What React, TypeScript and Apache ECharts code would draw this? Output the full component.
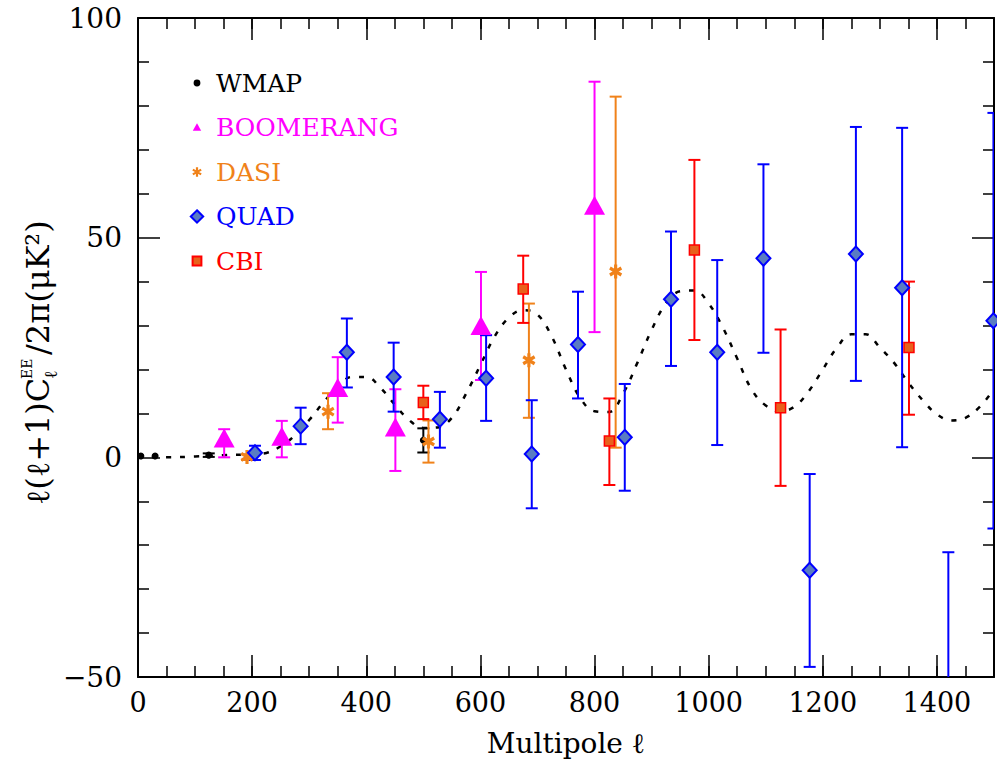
import React, { useEffect, useRef } from "react";
import * as echarts from "echarts";

const FONT = "DejaVu Serif";

// Theory EE curve (multipole, value)
const curveL = [0, 50, 100, 150, 200, 225, 250, 275, 300, 325, 350, 375, 400, 425, 450, 475, 500, 525, 550, 575, 600, 625, 650, 675, 700, 725, 750, 775, 800, 825, 850, 875, 900, 925, 950, 975, 1000, 1025, 1050, 1075, 1100, 1125, 1150, 1175, 1200, 1225, 1250, 1275, 1300, 1325, 1350, 1375, 1400, 1425, 1450, 1475, 1500];
const curveV = [0, 0, 0.2, 0.5, 0.7, 1.0, 2.5, 5.0, 8.5, 12.5, 16.0, 18.3, 18.3, 15.8, 12.0, 8.5, 6.7, 6.8, 9.0, 14.5, 21.0, 27.5, 31.8, 33.5, 32.5, 27.5, 20.0, 13.5, 10.5, 10.3, 14.5, 21.5, 29.0, 35.0, 37.8, 38.0, 35.0, 29.5, 22.5, 15.5, 11.8, 10.5, 11.5, 15.0, 20.0, 25.0, 28.0, 28.0, 25.0, 21.5, 17.0, 13.0, 9.8, 8.4, 9.0, 11.5, 15.5];

// WMAP
const wmapL = [5, 30, 124, 500];
const wmapV = [0.3, 0.3, 0.5, 3.9];
const wmapLo = [0.3, 0.3, 0.1, 1.1];
const wmapHi = [0.3, 0.3, 0.9, 6.6];

// BOOMERANG
const boomL = [151, 252, 350, 451, 601, 800];
const boomV = [4.4, 4.8, 15.9, 6.9, 30.0, 57.4];
const boomLo = [0.0, 0.0, 7.9, -3.1, 17.6, 28.5];
const boomHi = [6.4, 8.3, 22.8, 15.5, 42.2, 85.5];

// DASI
const dasiL = [191, 333, 509, 685, 837];
const dasiV = [0.1, 10.4, 3.6, 22.1, 42.3];
const dasiLo = [-0.6, 6.4, -1.2, 9.0, 2.2];
const dasiHi = [0.7, 14.6, 8.4, 35.0, 82.1];

// QUAD
const quadL = [205, 285, 366, 448, 529, 610, 690, 771, 853, 934, 1015, 1096, 1177, 1258, 1339, 1420, 1499];
const quadV = [1.05, 7.1, 23.9, 18.3, 8.65, 18.0, 0.75, 25.7, 4.55, 36.0, 23.9, 45.3, -25.7, 46.3, 38.6, -60.0, 31.1];
const quadLo = [-0.6, 3.0, 15.9, 10.4, 2.2, 8.3, -11.6, 13.4, -7.6, 20.8, 2.8, 23.8, -47.7, 17.4, 2.3, -98.0, -16.2];
const quadHi = [2.64, 11.3, 31.6, 26.1, 14.9, 27.8, 13.0, 37.7, 16.7, 51.4, 44.9, 66.7, -3.8, 75.2, 75.0, -21.6, 78.4];

// CBI
const cbiL = [500, 675, 826, 975, 1126, 1351];
const cbiV = [12.5, 38.3, 3.7, 47.2, 11.3, 25.0];
const cbiLo = [8.7, 30.6, -6.3, 26.7, -6.5, 9.7];
const cbiHi = [16.3, 45.9, 13.4, 67.7, 29.1, 40.0];

const xTickLabels = ["0", "200", "400", "600", "800", "1000", "1200", "1400"];

const C_WMAP = "#000000";
const C_BOOM = "#ff00ff";
const C_DASI = "#f0821a";
const C_QUAD = "#0000ff";
const C_CBI = "#ff0000";

function asteriskPath(cx: number, cy: number, L: number, w: number, pad?: number) {
  let d = "";
  if (pad) d += `M0,0M${pad},${pad}`;
  [30, 90, 150].forEach((deg) => {
    const t = (deg * Math.PI) / 180;
    const c = Math.cos(t), s = Math.sin(t);
    const pts = [
      [-L * c + w * s, -L * s - w * c],
      [L * c + w * s, L * s - w * c],
      [L * c - w * s, L * s + w * c],
      [-L * c - w * s, -L * s + w * c],
    ];
    d += "M" + pts.map((p) => `${(cx + p[0]).toFixed(2)},${(cy + p[1]).toFixed(2)}`).join("L") + "Z";
  });
  return "path://" + d;
}

function errSeries(name: string, L: number[], lo: number[], hi: number[], color: string) {
  return {
    type: "custom",
    name: name + " err",
    xAxisIndex: 0,
    yAxisIndex: 0,
    clip: true,
    silent: true,
    z: 2,
    data: L.map((x, i) => [x, lo[i], hi[i]]),
    encode: { x: 0, y: [1, 2] },
    renderItem: (params: any, api: any) => {
      const x = api.value(0);
      const a = api.value(1);
      const b = api.value(2);
      if (a === b) return null;
      const p1 = api.coord([x, a]);
      const p2 = api.coord([x, b]);
      const hw = 6;
      const st = { stroke: color, lineWidth: 2 };
      return {
        type: "group",
        children: [
          { type: "line", shape: { x1: p1[0], y1: p1[1], x2: p2[0], y2: p2[1] }, style: st },
          { type: "line", shape: { x1: p1[0] - hw, y1: p1[1], x2: p1[0] + hw, y2: p1[1] }, style: st },
          { type: "line", shape: { x1: p2[0] - hw, y1: p2[1], x2: p2[0] + hw, y2: p2[1] }, style: st },
        ],
      };
    },
  };
}

function pts(L: number[], V: number[]) {
  return L.map((x, i) => [x, V[i]]);
}

export default function App() {
  const ref = useRef<HTMLDivElement>(null);
  useEffect(() => {
    if (!ref.current) return;
    const chart = echarts.init(ref.current, null, { renderer: "svg" });
    const axisLine = { show: true, onZero: false, lineStyle: { color: "#000", width: 2 } };
    const baseX = { type: "value", min: 0, max: 1500, splitLine: { show: false } };
    const option: any = {
      animation: false,
      backgroundColor: "#ffffff",
      grid: { left: 138, right: 1, top: 18, bottom: 90, containLabel: false },
      xAxis: [
        {
          ...baseX,
          position: "bottom",
          interval: 200,
          axisLine,
          axisTick: { show: true, inside: true, length: 22, lineStyle: { color: "#000", width: 1.5 } },
          axisLabel: {
            show: true,
            margin: 12,
            color: "#000",
            fontFamily: FONT,
            fontSize: 27,
            formatter: (v: number) => {
              const i = Math.round(v / 200);
              return v % 200 === 0 && i < xTickLabels.length ? xTickLabels[i] : "";
            },
          },
          name: "Multipole ℓ",
          nameLocation: "middle",
          nameGap: 52,
          nameTextStyle: { color: "#000", fontFamily: FONT, fontSize: 28 },
        },
        {
          ...baseX,
          position: "bottom",
          interval: 50,
          axisLine: { show: false, onZero: false },
          axisTick: { show: true, inside: true, length: 11, lineStyle: { color: "#000", width: 1.5 } },
          axisLabel: { show: false },
        },
        {
          ...baseX,
          position: "top",
          interval: 200,
          axisLine,
          axisTick: { show: true, inside: true, length: 22, lineStyle: { color: "#000", width: 1.5 } },
          axisLabel: { show: false },
        },
        {
          ...baseX,
          position: "top",
          interval: 50,
          axisLine: { show: false, onZero: false },
          axisTick: { show: true, inside: true, length: 11, lineStyle: { color: "#000", width: 1.5 } },
          axisLabel: { show: false },
        },
      ],
      yAxis: [
        {
          type: "value",
          min: -50,
          max: 100,
          interval: 50,
          position: "left",
          splitLine: { show: false },
          axisLine,
          axisTick: { show: true, inside: true, length: 22, lineStyle: { color: "#000", width: 1.5 } },
          minorTick: { show: true, splitNumber: 5, length: 11, lineStyle: { color: "#000", width: 1.5 } },
          axisLabel: {
            show: true,
            margin: 16,
            color: "#000",
            fontFamily: FONT,
            fontSize: 28,
            formatter: (v: number) => (v < 0 ? "−" + Math.abs(v) : String(v)),
          },
        },
        {
          type: "value",
          min: -50,
          max: 100,
          interval: 50,
          position: "right",
          splitLine: { show: false },
          axisLine,
          axisTick: { show: true, inside: true, length: 22, lineStyle: { color: "#000", width: 1.5 } },
          minorTick: { show: true, splitNumber: 5, length: 11, lineStyle: { color: "#000", width: 1.5 } },
          axisLabel: { show: false },
        },
      ],
      legend: {
        left: 189,
        top: 68,
        orient: "vertical",
        padding: 0,
        itemGap: 14.5,
        itemWidth: 14,
        itemHeight: 14,
        selectedMode: false,
        textStyle: { fontFamily: FONT, fontSize: 25, lineHeight: 30, padding: [0, 0, 0, 7] },
        data: [
          { name: "WMAP", icon: "path://M0,0M14,14M7,3.6A3.4,3.4,0,1,1,7,10.4A3.4,3.4,0,1,1,7,3.6Z", textStyle: { color: C_WMAP } },
          { name: "BOOMERANG", icon: "path://M0,0M14,14M7,2.8L11.2,10.2L2.8,10.2Z", textStyle: { color: C_BOOM } },
          { name: "DASI", icon: asteriskPath(7, 7, 4.8, 1.1, 14), textStyle: { color: C_DASI } },
          { name: "QUAD", icon: "path://M0,0M14,14M7,0.8L13.2,7L7,13.2L0.8,7Z", textStyle: { color: C_QUAD } },
          { name: "CBI", icon: "path://M0,0M14,14M2.6,2.6L11.4,2.6L11.4,11.4L2.6,11.4Z", textStyle: { color: C_CBI } },
        ],
      },
      graphic: [
        {
          type: "group",
          x: 38,
          y: 505,
          rotation: Math.PI / 2,
          silent: true,
          children: [
            { type: "text", x: 0, y: 0, style: { text: "ℓ(ℓ+1)C", fill: "#000", fontFamily: FONT, fontSize: 32, align: "left", verticalAlign: "middle" } },
            { type: "text", x: 126, y: -11, style: { text: "EE", fill: "#000", fontFamily: FONT, fontSize: 14, align: "left", verticalAlign: "middle" } },
            { type: "text", x: 126, y: 12, style: { text: "ℓ", fill: "#000", fontFamily: FONT, fontSize: 18, align: "left", verticalAlign: "middle" } },
            { type: "text", x: 150, y: 0, style: { text: "/2π(μK²)", fill: "#000", fontFamily: FONT, fontSize: 32, align: "left", verticalAlign: "middle" } },
          ],
        },
      ],
      series: [
        {
          type: "line",
          name: "theory",
          xAxisIndex: 0,
          yAxisIndex: 0,
          data: pts(curveL, curveV),
          smooth: 0.4,
          symbol: "none",
          silent: true,
          z: 1,
          lineStyle: { color: "#000", width: 2.5, type: [5, 9] },
        },
        errSeries("WMAP", wmapL, wmapLo, wmapHi, C_WMAP),
        errSeries("BOOMERANG", boomL, boomLo, boomHi, C_BOOM),
        errSeries("DASI", dasiL, dasiLo, dasiHi, C_DASI),
        errSeries("QUAD", quadL, quadLo, quadHi, C_QUAD),
        errSeries("CBI", cbiL, cbiLo, cbiHi, C_CBI),
        {
          type: "scatter",
          name: "WMAP",
          data: pts(wmapL, wmapV),
          symbol: "circle",
          symbolSize: 7,
          clip: true,
          z: 3,
          itemStyle: { color: C_WMAP, opacity: 1 },
        },
        {
          type: "scatter",
          name: "BOOMERANG",
          data: pts(boomL, boomV),
          symbol: "triangle",
          symbolSize: [21, 19],
          clip: true,
          z: 3,
          itemStyle: { color: C_BOOM, opacity: 1 },
        },
        {
          type: "scatter",
          name: "DASI",
          data: pts(dasiL, dasiV),
          symbol: asteriskPath(0, 0, 10, 2.4),
          symbolSize: [13, 14],
          clip: true,
          z: 3,
          itemStyle: { color: C_DASI, opacity: 1 },
        },
        {
          type: "scatter",
          name: "QUAD",
          data: pts(quadL, quadV),
          symbol: "diamond",
          symbolSize: [14, 15],
          clip: true,
          z: 3,
          itemStyle: { color: "#5a7cc2", borderColor: C_QUAD, borderWidth: 2, opacity: 1 },
        },
        {
          type: "scatter",
          name: "CBI",
          data: pts(cbiL, cbiV),
          symbol: "rect",
          symbolSize: 10,
          clip: true,
          z: 3,
          itemStyle: { color: "#e8611c", borderColor: C_CBI, borderWidth: 1.5, opacity: 1 },
        },
      ],
    };
    chart.setOption(option);
    return () => chart.dispose();
  }, []);
  return (
    <div
      ref={ref}
      style={{ position: "fixed", left: 0, top: 0, width: 997, height: 767, background: "#fff" }}
    />
  );
}
